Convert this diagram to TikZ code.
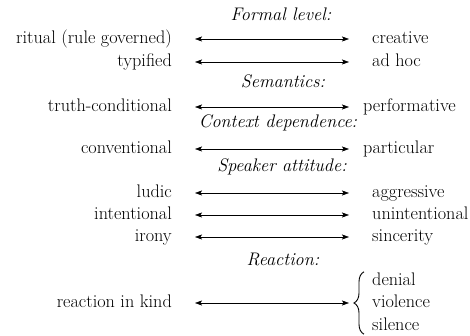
\documentclass[tikz,border=0pt]{standalone}
\usetikzlibrary{arrows.meta,decorations.pathreplacing}
\tikzset{
  pole/.style={inner sep=0pt, text height=13pt, text depth=4pt, font=\fontsize{18.2}{21}\selectfont},
  lpole/.style={pole, anchor=base east},
  rpole/.style={pole, anchor=base west},
  heading/.style={inner sep=0pt, anchor=base, font=\fontsize{18.2}{21}\selectfont\itshape},
  link/.style={{Stealth[length=7pt,width=5pt,inset=1.5pt]}-{Stealth[length=7pt,width=5pt,inset=1.5pt]}, line width=0.6pt, shorten <=23pt, shorten >=23pt},
  choice/.style={decorate, decoration={brace, amplitude=10pt}, line width=0.9pt}
}
\begin{document}
\begin{tikzpicture}[x=1pt, y=-1pt]
\useasboundingbox (0,0) rectangle (470,336);
% Formal level
\node[heading] (formal) at (281,21) {Formal level:};
\node[lpole] (ritual) at (172,43.5) {ritual (rule governed)};
\node[rpole] (creative) at (372,43.5) {creative};
\draw[link] (ritual) -- (creative);
\node[lpole] (typified) at (172,66.5) {typified};
\node[rpole] (adhoc) at (372,66.5) {ad hoc};
\draw[link] (typified) -- (adhoc);
% Semantics
\node[heading] (semantics) at (283,88) {Semantics:};
\node[lpole] (truth) at (172,111.5) {truth-conditional};
\node[rpole] (perform) at (363,111.5) {performative};
\draw[link, shorten >=14pt] (truth) -- (perform);
% Context dependence
\node[heading] (context) at (278,128) {Context dependence:};
\node[lpole] (convent) at (172,153.5) {conventional};
\node[rpole] (partic) at (363,153.5) {particular};
\draw[link, shorten >=14pt] (convent) -- (partic);
% Speaker attitude
\node[heading] (speaker) at (282,172) {Speaker attitude:};
\node[lpole] (ludic) at (172,197.5) {ludic};
\node[rpole] (aggress) at (372,197.5) {aggressive};
\draw[link] (ludic) -- (aggress);
\node[lpole] (intent) at (172,219.5) {intentional};
\node[rpole] (unintent) at (372,219.5) {unintentional};
\draw[link] (intent) -- (unintent);
\node[lpole] (irony) at (172,241.5) {irony};
\node[rpole] (sincere) at (372,241.5) {sincerity};
\draw[link] (irony) -- (sincere);
% Reaction
\node[heading] (reaction) at (283,265) {Reaction:};
\node[lpole] (kind) at (172,307.5) {reaction in kind};
\node[rpole] (denial) at (372,285) {denial};
\node[rpole] (violence) at (372,307.5) {violence};
\node[rpole] (silence) at (372,330) {silence};
\draw[link] (kind) -- (violence);
\draw[choice] ([xshift=-8pt]silence.south west) -- ([xshift=-8pt]denial.north west);
\end{tikzpicture}
\end{document}
